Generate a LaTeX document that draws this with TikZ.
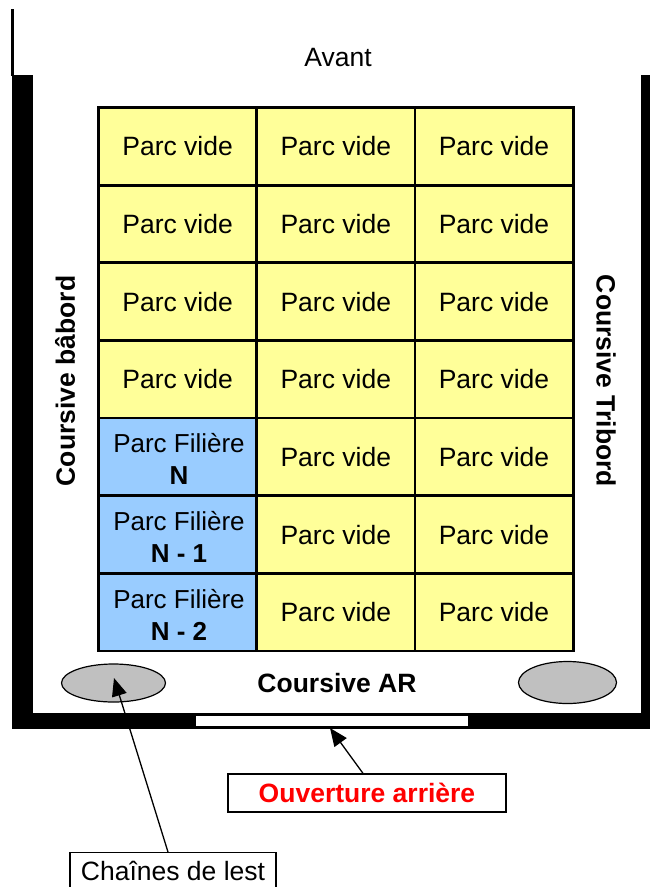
\documentclass[tikz,border=0pt]{standalone}
\usepackage{fontspec}
\setmainfont{Liberation Sans}
\usetikzlibrary{arrows.meta}
\definecolor{cellyellow}{HTML}{FFFF99}
\definecolor{cellblue}{HTML}{99CCFF}
\definecolor{ellgray}{HTML}{C0C0C0}
\begin{document}
\begin{tikzpicture}[x=1pt,y=-1pt,
  txt/.style={font=\fontsize{26.5}{31}\selectfont, inner sep=0pt},
  btxt/.style={font=\fontsize{26.5}{31}\selectfont\bfseries, inner sep=0pt},
  cellv/.style={draw=black, line width=2.8pt, fill=cellyellow},
  cellf/.style={draw=black, line width=2.8pt, fill=cellblue},
  wall/.style={fill=black, draw=none},
  chain/.style={draw=black, line width=1.2pt, fill=ellgray},
  callout/.style={draw=black, line width=1.3pt, fill=white, minimum height=38pt, inner sep=0pt},
  pointer/.style={line width=1.3pt, -{Triangle[length=18pt,width=15pt]}}]
\useasboundingbox (0,0) rectangle (650,887);
% walls
\draw[line width=3pt] (12.5,9) -- (12.5,76);
\fill[wall] (12,75) rectangle (33,729);
\fill[wall] (641,75) rectangle (650,729);
\fill[wall] (12,713) rectangle (650,729);
\draw[fill=white, line width=0.8pt] (195,715) rectangle (468,726);
\node[coordinate] (gap) at (330,728) {};
% grid
\foreach \r in {0,...,6}{
  \foreach \c in {0,1,2}{
    \pgfmathsetmacro{\xa}{98.5+158.2*\c}
    \pgfmathsetmacro{\ya}{107.5+77.64*\r}
    \pgfmathsetmacro{\xb}{\xa+158.2}
    \pgfmathsetmacro{\yb}{\ya+77.64}
    \pgfmathtruncatemacro{\isf}{(\c==0 && \r>3) ? 1 : 0}
    \ifnum\isf=1
      \path[cellf] (\xa,\ya) rectangle (\xb,\yb);
    \else
      \path[cellv] (\xa,\ya) rectangle (\xb,\yb);
      \node[txt] (c\r\c) at ({(\xa+\xb)/2},{(\ya+\yb)/2}) {Parc vide};
    \fi
  }
}
\node[txt, align=center, font=\fontsize{26}{32}\selectfont] (f4) at (179,459) {Parc Filière\\\textbf{N}};
\node[txt, align=center, font=\fontsize{26}{32}\selectfont] (f5) at (179,537) {Parc Filière\\\textbf{N - 1}};
\node[txt, align=center, font=\fontsize{26}{32}\selectfont] (f6) at (179,614.5) {Parc Filière\\\textbf{N - 2}};
% labels
\node[txt] (avant) at (338,58) {Avant};
\node[btxt] (ar) at (337,683) {Coursive AR};
\node[btxt, rotate=90] (bab) at (65,381) {Coursive bâbord};
\node[btxt, rotate=-90] (tri) at (606,381) {Coursive Tribord};
% chains
\draw[chain] (113.5,683) ellipse [x radius=52, y radius=19];
\node[coordinate] (chL) at (114,678) {};
\draw[chain] (567.5,682.5) ellipse [x radius=49, y radius=21];
% callouts
\node[callout, minimum width=278pt] (ouv) at (367,793) {\fontsize{26.5}{31}\selectfont\bfseries\color{red}Ouverture arrière};
\node[callout, minimum width=206pt, anchor=north, text depth=0pt] (lest) at (173,852) {\raisebox{2pt}{\fontsize{26.5}{31}\selectfont Chaînes de lest}};
\draw[pointer] (ouv.north -| 363,0) -- (gap);
\draw[pointer] (lest.north -| 168,0) -- (chL);
\end{tikzpicture}
\end{document}
